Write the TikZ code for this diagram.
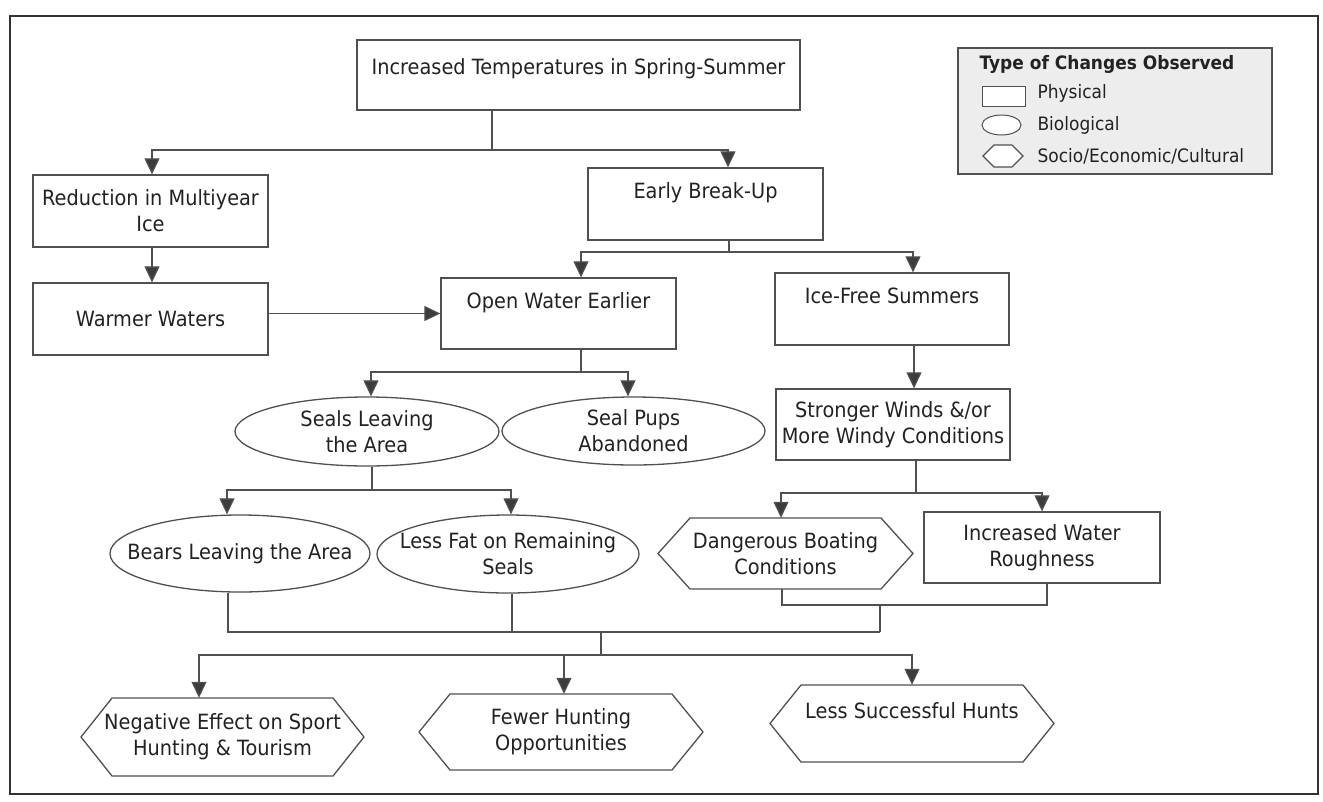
\documentclass[tikz,border=0pt]{standalone}
\usepackage{fontspec}
\setmainfont{DejaVu Sans}[FakeStretch=0.92]
\usetikzlibrary{arrows.meta,shapes.geometric,calc}
\definecolor{linegray}{HTML}{505050}
\definecolor{tipgray}{HTML}{3C3C3C}
\definecolor{legendfill}{HTML}{EDEDED}
\definecolor{textcol}{HTML}{222222}
\tikzset{
 every node/.style={font=\fontsize{21}{26}\selectfont, text=textcol},
 box/.style={draw=linegray, line width=1.3pt, rectangle, align=center, inner sep=0pt},
 ellnode/.style={draw=linegray, line width=1.3pt, ellipse, inner sep=0pt},
 lbl/.style={align=center, inner sep=0pt},
 hexbox/.style={rectangle, align=center, inner sep=0pt},
 shapeline/.style={draw=linegray, line width=1.3pt, line join=miter},
 conn/.style={draw=linegray, line width=1.2pt},
 arr/.style={conn, -{Triangle[length=16pt,width=15pt,fill=tipgray]}},
 legtext/.style={anchor=west, font=\fontsize{18.5}{20}\selectfont},
}
\newcommand{\hexnode}[7]{%
 \draw[shapeline, fill=white] ({#2-#4/2},#3) -- ({#2-#4/2+#6},{#3-#5/2}) -- ({#2+#4/2-#6},{#3-#5/2}) -- ({#2+#4/2},#3) -- ({#2+#4/2-#6},{#3+#5/2}) -- ({#2-#4/2+#6},{#3+#5/2}) -- cycle;
 \node[hexbox, minimum width=#4pt, minimum height=#5pt] (#1) at (#2,#3) {#7};}
\begin{document}
\begin{tikzpicture}[x=1pt,y=-1pt]
\useasboundingbox (0,0) rectangle (1323,801);
\fill[white] (0,0) rectangle (1323,801);
\draw[line width=2.5pt, draw=black!80] (10,16) rectangle (1318,794);

% nodes
\node[box, minimum width=443pt, minimum height=70pt] (top) at (578.5,75) {Increased Temperatures in Spring-Summer\\[-10pt]\mbox{}};
\node[box, minimum width=235pt, minimum height=72pt] (red) at (150.5,211) {Reduction in Multiyear\\Ice};
\node[box, minimum width=235pt, minimum height=72pt] (warm) at (150.5,319) {Warmer Waters};
\node[box, minimum width=235pt, minimum height=72pt] (early) at (705.5,204) {Early Break-Up\\\mbox{}};
\node[box, minimum width=235pt, minimum height=71pt] (open) at (558.5,313.5) {Open Water Earlier\\\mbox{}};
\node[box, minimum width=234pt, minimum height=72pt] (ice) at (892,309) {Ice-Free Summers\\\mbox{}};
\node[box, minimum width=234pt, minimum height=71pt] (wind) at (893,424.5) {Stronger Winds \&/or\\More Windy Conditions};
\node[box, minimum width=236pt, minimum height=71pt] (rough) at (1042,547.5) {Increased Water\\Roughness};
\node[ellnode, minimum width=264pt, minimum height=69pt] (seals) at (367,431.5) {};
\node[lbl] (sealsT) at (seals.center) {Seals Leaving\\the Area};
\node[ellnode, minimum width=263pt, minimum height=68pt] (pups) at (633.5,431) {};
\node[lbl] (pupsT) at (pups.center) {Seal Pups\\Abandoned};
\node[ellnode, minimum width=260pt, minimum height=77pt] (bears) at (240,553.5) {};
\node[lbl] (bearsT) at (bears.center) {Bears Leaving the Area};
\node[ellnode, minimum width=262pt, minimum height=78pt] (fat) at (508,554) {};
\node[lbl] (fatT) at (fat.center) {Less Fat on Remaining\\Seals};
\hexnode{dang}{785.5}{553.5}{255}{71}{32}{Dangerous Boating\\Conditions}
\hexnode{neg}{222.5}{737}{283}{78}{31}{Negative Effect on Sport\\Hunting \& Tourism}
\hexnode{few}{561}{732}{284}{76}{31}{Fewer Hunting\\Opportunities}
\hexnode{less}{912}{723.5}{284}{77}{31}{Less Successful Hunts\\\mbox{}}

% legend
\node[draw=linegray, line width=1.3pt, fill=legendfill, minimum width=314pt, minimum height=126pt, inner sep=0pt] (legend) at (1115,111) {};
\node[legtext, font=\fontsize{18.5}{20}\selectfont\bfseries] (ltitle) at (976,64) {Type of Changes Observed};
\node[draw=linegray, line width=1pt, fill=white, minimum width=43pt, minimum height=20pt, inner sep=0pt] (lrect) at (1003.5,96) {};
\node[ellipse, draw=linegray, line width=1pt, fill=white, minimum width=39pt, minimum height=20pt, inner sep=0pt] (lell) at (1001.5,125) {};
\hexnode{lhex}{1003}{156}{40}{22}{11}{}
\node[legtext] (lphys) at (1034,93) {Physical};
\node[legtext] (lbio) at (1034,125) {Biological};
\node[legtext] (lsoc) at (1034,156) {Socio/Economic/Cultural};

% connectors
\coordinate (j1) at (492,150);
\draw[conn] (top.south -| j1) -- (j1);
\draw[arr] (j1) -| ([xshift=1.5pt]red.north);
\draw[arr] (j1) -| ([xshift=22.5pt]early.north);
\draw[arr] ([xshift=1.5pt]red.south) -- ([xshift=1.5pt]warm.north);
\draw[arr] (warm.east |- open.west) -- (open.west);
\coordinate (j2) at (729,252);
\draw[conn] (early.south -| j2) -- (j2);
\draw[arr] (j2) -| ([xshift=22.5pt]open.north);
\draw[arr] (j2) -| ([xshift=21pt]ice.north);
\coordinate (j3) at (581,372);
\draw[conn] (open.south -| j3) -- (j3);
\draw[arr] (j3) -| ([xshift=4pt]seals.north);
\draw[arr] (j3) -| ([xshift=-5.5pt]pups.north);
\draw[arr] ([xshift=22pt]ice.south) -- ([xshift=22pt]ice.south |- wind.north);
\coordinate (j4) at (372,490);
\draw[conn] (seals.south -| j4) -- (j4);
\draw[arr] (j4) -| ([xshift=-13pt]bears.north);
\draw[arr] (j4) -| ([xshift=3pt]fat.north);
\coordinate (j5) at (916,493);
\draw[conn] (wind.south -| j5) -- (j5);
\draw[arr] (j5) -| ([xshift=-4.5pt]dang.north);
\draw[arr] (j5) -| (rough.north);
\coordinate (j6) at (880,605);
\coordinate (j7) at (880,632);
\coordinate (j8) at (601,632);
\coordinate (j9) at (601,655);
\draw[conn] ([xshift=-3.5pt]dang.south) |- ([xshift=5pt]rough.south |- j6) -- ([xshift=5pt]rough.south);
\draw[conn] (j6) -- (j7);
\draw[conn] ([xshift=-12pt]bears.south) |- (j7);
\draw[conn] ([xshift=4pt]fat.south) -- ([xshift=4pt]fat.south |- j8);
\draw[conn] (j8) -- (j9);
\draw[arr] (j9) -| ([xshift=-23.5pt]neg.north);
\draw[arr] (j9) -| ([xshift=3pt]few.north);
\draw[arr] (j9) -| (less.north);
\end{tikzpicture}
\end{document}
